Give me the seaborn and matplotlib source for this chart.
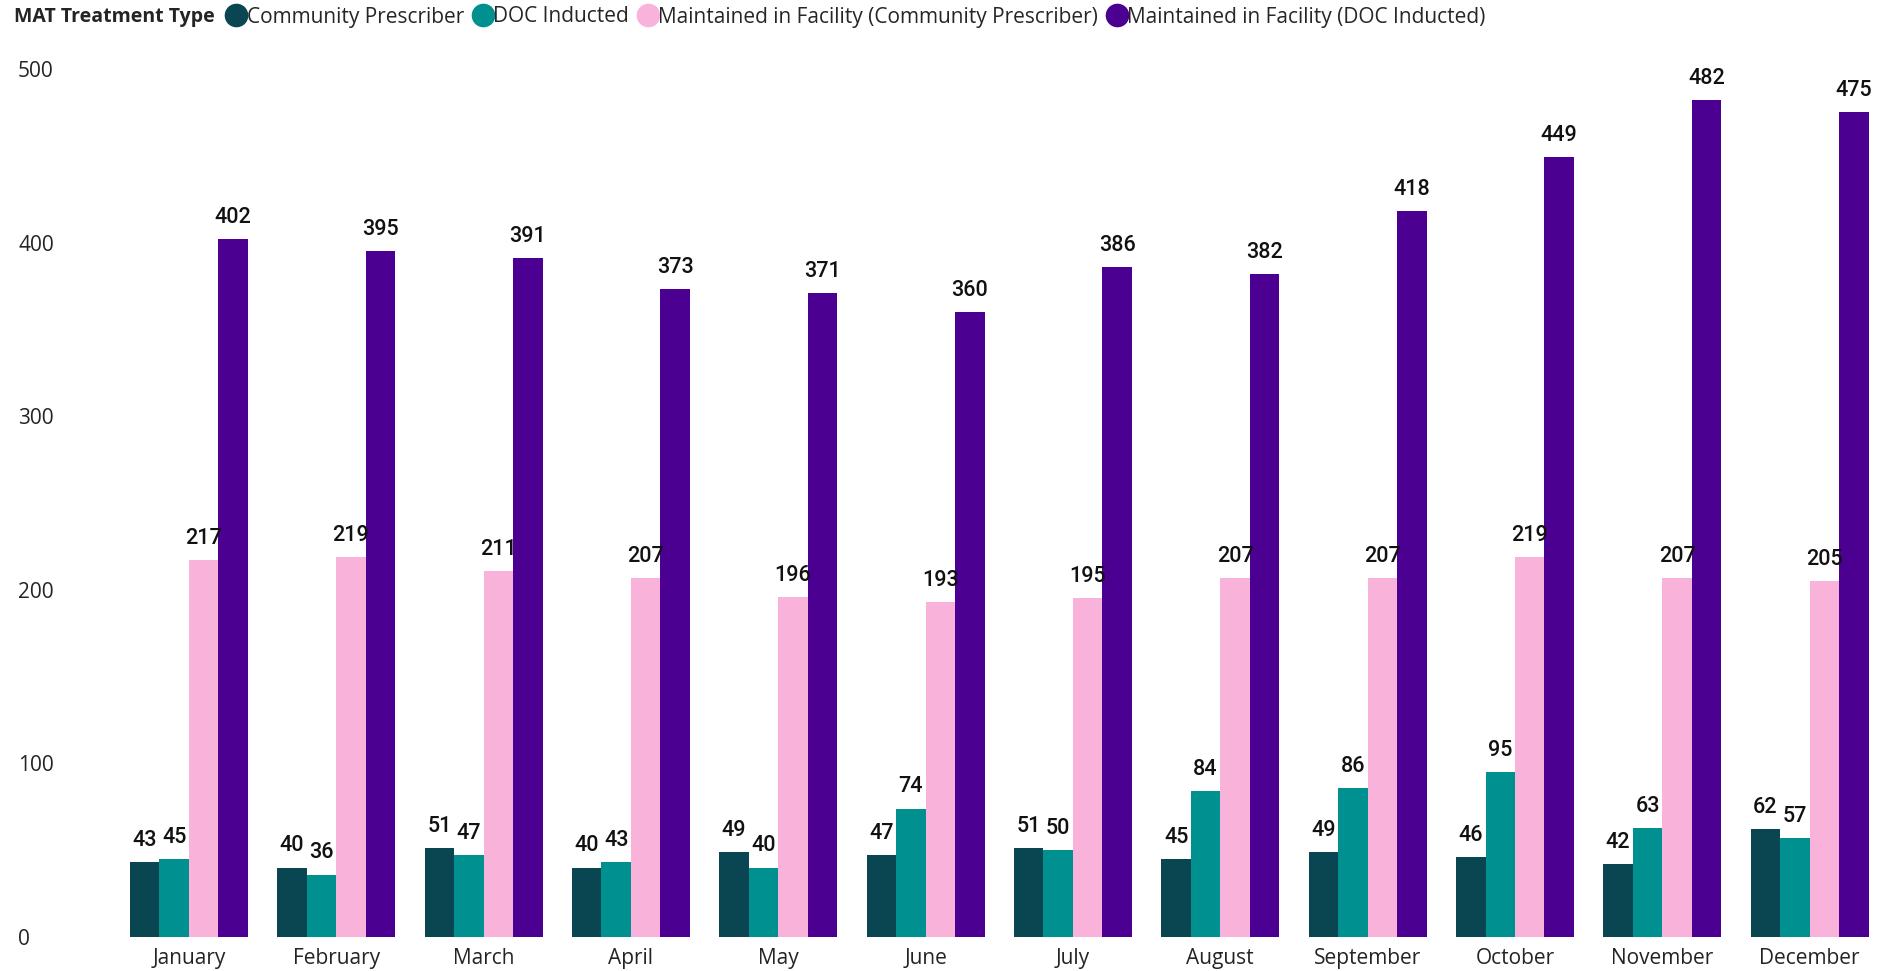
import pandas as pd
import matplotlib.pyplot as plt
import seaborn as sns
from matplotlib.lines import Line2D

# Chart values
months = ['January', 'February', 'March', 'April', 'May', 'June', 'July',
          'August', 'September', 'October', 'November', 'December']
series_names = ['Community Prescriber', 'DOC Inducted',
                'Maintained in Facility (Community Prescriber)',
                'Maintained in Facility (DOC Inducted)']
community_prescriber = [43, 40, 51, 40, 49, 47, 51, 45, 49, 46, 42, 62]
doc_inducted = [45, 36, 47, 43, 40, 74, 50, 84, 86, 95, 63, 57]
maint_community = [217, 219, 211, 207, 196, 193, 195, 207, 207, 219, 207, 205]
maint_doc = [402, 395, 391, 373, 371, 360, 386, 382, 418, 449, 482, 475]
colors = ['#094651', '#009090', '#F9B3DA', '#4B0092']

rows = []
for name, vals in zip(series_names, [community_prescriber, doc_inducted,
                                     maint_community, maint_doc]):
    for m, v in zip(months, vals):
        rows.append({'Month': m, 'Type': name, 'Count': v})
df = pd.DataFrame(rows)

sns.set_style('white')
plt.rcParams['font.family'] = ['Open Sans', 'DejaVu Sans']

fig = plt.figure(figsize=(18.89, 9.71), dpi=100)
ax = fig.add_axes([0.061, 0.035, 0.936, 0.894])

sns.barplot(data=df, x='Month', y='Count', hue='Type', order=months,
            hue_order=series_names, palette=colors, width=0.8, gap=0,
            saturation=1, legend=False, linewidth=0, ax=ax)

for cont in ax.containers:
    ax.bar_label(cont, fmt='%d', padding=8, fontsize=15.5, family='Roboto',
                 fontweight='medium', color='#111111')

ax.set_ylim(0, 500)
ax.set_xlim(-0.5, 11.5)
ax.set_yticks([0, 100, 200, 300, 400, 500])
ax.set_xlabel('')
ax.set_ylabel('')
ax.tick_params(axis='y', length=0, pad=70, labelsize=15, labelcolor='#252423')
ax.tick_params(axis='x', length=0, pad=8, labelsize=15, labelcolor='#252423')
for lab in ax.get_yticklabels():
    lab.set_horizontalalignment('left')
sns.despine(ax=ax, left=True, bottom=True)

# Legend across the top
fig.text(14 / 1889, 1 - 17 / 971, 'MAT Treatment Type', fontsize=14,
         fontweight='bold', va='center', ha='left', color='#252423')
handles = [Line2D([0], [0], marker='o', linestyle='', markersize=16,
                  markerfacecolor=c, markeredgecolor=c) for c in colors]
fig.legend(handles, series_names, loc='center left', ncol=4,
           bbox_to_anchor=(228 / 1889, 1 - 17 / 971), frameon=False,
           fontsize=15, handlelength=0.8, handletextpad=0.1,
           columnspacing=0.5, borderaxespad=0, borderpad=0)

fig.savefig('out.png', dpi=100)
